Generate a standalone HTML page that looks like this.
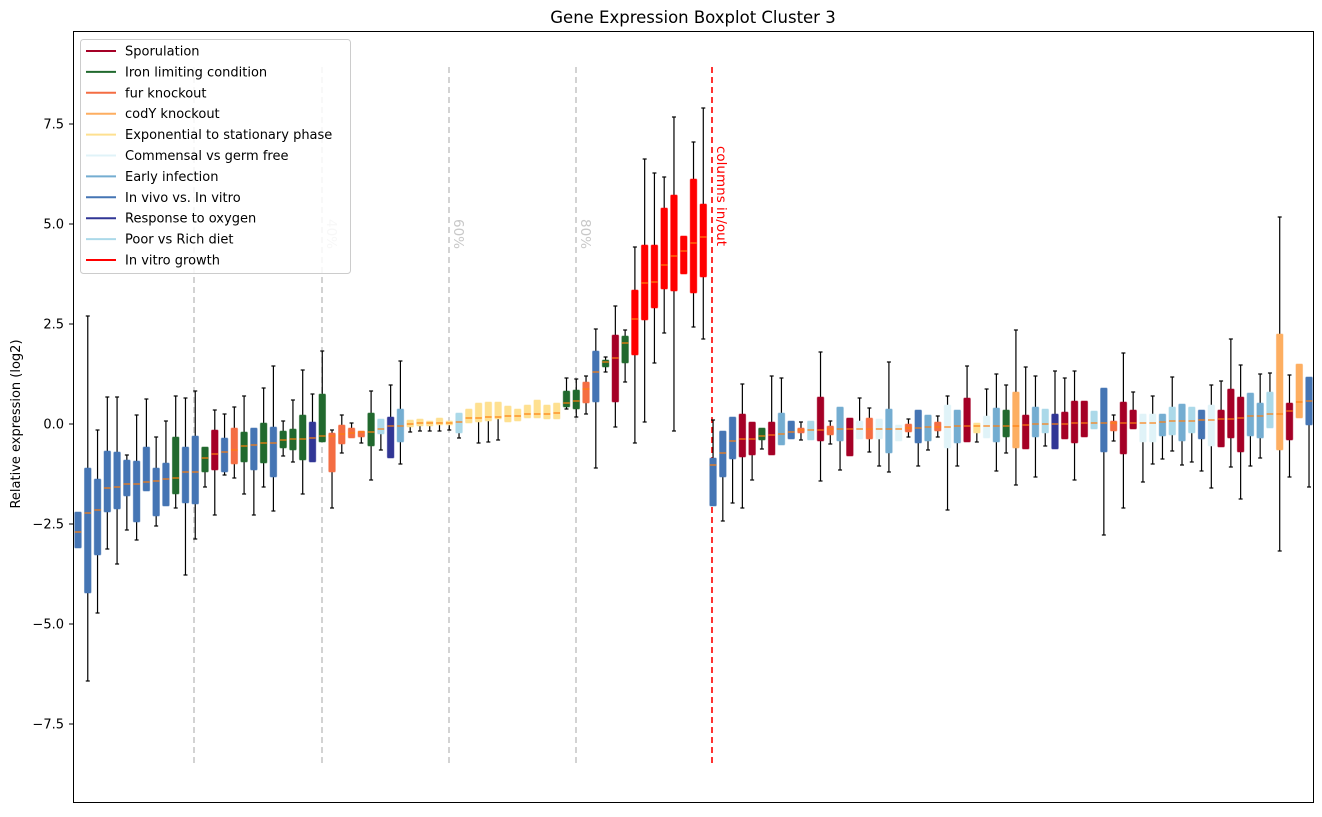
<!DOCTYPE html>
<html><head><meta charset="utf-8"><style>
html,body{margin:0;padding:0;background:#fff;}
svg text{font-family:"DejaVu Sans","Liberation Sans",sans-serif;}
</style></head><body>
<svg id="s" width="1322" height="812" xmlns="http://www.w3.org/2000/svg">
<rect width="1322" height="812" fill="#fff"/>
<text x="693" y="23" font-size="16.5" text-anchor="middle">Gene Expression Boxplot Cluster 3</text>
<text transform="translate(20,424) rotate(-90)" font-size="13" text-anchor="middle">Relative expression (log2)</text>
<g id="g"></g>
<rect x="73.5" y="31.5" width="1240" height="771" fill="none" stroke="#000" stroke-width="1"/>
</svg>
<script>
var C={b:"#4575b4",g:"#21692e",c:"#a50026",o:"#f46d43",f:"#fdae61",y:"#fee090",e:"#e0f3f8",s:"#74add1",n:"#313695",l:"#abd9e9",r:"#ff0000"};
var D=[
["b",512,512,532,548,548],["b",316,468,513,593,681],["b",430,479,510,555,613],["b",397,451,488,512,549],["b",397,452,487,509,564],
["b",455,460,484,496,530],["b",415,461,484,522,540],["b",399,447,482,491,491],["b",437,468,481,516,526],["b",421,463,479,506,506],
["g",396,437,478,494,508],["b",398,447,472,503,575],["b",391,436,472,504,539],["g",447,447,458,472,487],["c",410,430,454,470,515],
["b",414,438,452,472,475],["o",407,428,450,464,478],["g",396,432,446,462,494],["b",428,428,445,470,515],["g",388,423,443,463,487],
["b",366,427,443,477,511],["g",421,431,440,448,456],["g",400,429,439,450,462],["g",370,415,439,460,494],["n",394,422,438,462,462],
["g",351,394,436,442,442],["o",430,433,436,472,508],["o",415,425,434,444,453],["o",423,428,433,438,438],["o",431,431,432,437,443],
["g",391,413,432,446,480],["l",419,419,429,434,450],["n",385,417,426,458,458],["s",361,409,426,442,464],["y",420,420,424,427,432],
["y",419,419,423,426,431],["y",421,421,423,426,431],["y",418,418,423,425,431],["y",421,421,423,425,430],["l",413,413,422,433,438],
["y",409,409,418,423,423],["y",403,403,418,422,443],["y",402,402,417,421,442],["y",402,402,417,419,440],["y",406,406,416,422,422],
["y",409,409,416,421,421],["y",405,405,414,418,418],["y",400,400,414,418,418],["y",405,405,414,419,419],["y",403,403,413,419,419],
["g",378,391,403,407,409],["g",379,390,401,409,417],["o",376,382,389,403,414],["b",329,351,372,402,468],["g",357,360,362,367,372],
["c",306,335,358,402,427],["g",330,336,343,363,382],["r",247,290,319,355,443],["r",159,245,283,320,422],["r",173,245,282,308,363],
["r",177,208,265,289,333],["r",117,195,256,291,431],["r",236,236,251,274,274],["r",142,179,243,293,327],["r",108,204,237,277,339],
["b",420,458,465,506,506],["b",431,431,453,477,521],["b",417,417,441,459,503],["c",384,414,439,457,508],["c",422,422,439,455,480],
["g",428,428,436,440,449],["c",376,422,435,455,455],["s",378,413,434,445,445],["b",421,421,432,439,439],["o",422,428,430,433,440],
["l",421,421,430,440,440],["c",352,397,430,441,481],["o",421,426,429,435,444],["s",407,407,429,441,470],["c",418,418,429,456,456],
["e",398,421,429,439,439],["o",408,418,429,439,452],["e",419,419,429,439,466],["s",362,409,429,453,472],["e",425,425,429,441,441],
["o",419,424,428,432,437],["b",410,410,428,443,466],["s",415,415,427,441,450],["o",416,422,427,431,437],["e",396,405,427,448,510],
["s",410,410,426,443,466],["c",366,398,426,442,442],["y",423,423,426,433,442],["e",389,416,426,438,438],["s",374,408,426,442,471],
["g",385,410,426,437,453],["f",330,392,426,448,485],["c",367,415,425,449,449],["s",376,407,424,437,477],["l",409,409,424,433,446],
["n",371,414,424,449,449],["c",378,412,424,439,439],["c",371,401,423,443,480],["c",401,401,423,437,437],["l",411,411,423,429,429],
["b",388,388,423,452,535],["o",415,421,423,431,441],["c",353,402,423,454,508],["c",392,410,423,429,429],["e",414,414,423,442,482],
["e",396,414,423,442,464],["s",414,414,422,436,459],["l",377,407,421,435,451],["s",404,404,421,441,465],["l",407,407,421,433,462],
["b",410,410,420,439,471],["e",385,405,420,446,488],["c",381,410,419,447,447],["c",339,389,419,438,467],["c",365,397,418,452,499],
["s",393,393,416,436,466],["s",374,403,416,438,458],["l",373,392,414,428,428],["f",217,334,414,450,551],["c",375,403,411,440,477],
["f",364,364,402,418,418],["b",377,377,401,425,487]];
var h="";
[[7.5,124],[5,224],[2.5,324],[0,424],[-2.5,524],[-5,624],[-7.5,724]].forEach(function(t){
 h+='<line x1="69" x2="73.5" y1="'+t[1]+'" y2="'+t[1]+'" stroke="#000"/>';
 h+='<text x="64" y="'+(t[1]+4.5)+'" font-size="13" text-anchor="end">'+(t[0]==0?'0.0':(t[0]<0?'\u2212'+(-t[0]).toFixed(1):t[0].toFixed(1)))+'</text>';
});
[194,322,449,576].forEach(function(x){
 h+='<line x1="'+x+'" x2="'+x+'" y1="67" y2="767" stroke="#c8c8c8" stroke-width="1.6" stroke-dasharray="6,4"/>';
});
[["40%",322],["60%",449],["80%",576]].forEach(function(t){
 h+='<text transform="translate('+(t[1]+5)+',219) rotate(90)" font-size="13.5" fill="#c8c8c8">'+t[0]+'</text>';
});
h+='<line x1="712" x2="712" y1="67" y2="767" stroke="#ff0000" stroke-width="1.6" stroke-dasharray="6,4"/>';
h+='<text transform="translate(717,146) rotate(90)" font-size="13.5" fill="#ff0000">columns in/out</text>';
D.forEach(function(d,i){
 var x=78+i*9.77, col=C[d[0]];
 h+='<line x1="'+x+'" x2="'+x+'" y1="'+d[1]+'" y2="'+d[2]+'" stroke="#000" stroke-width="1.2"/>';
 h+='<line x1="'+x+'" x2="'+x+'" y1="'+d[4]+'" y2="'+d[5]+'" stroke="#000" stroke-width="1.2"/>';
 if(d[1]<d[2]) h+='<line x1="'+(x-2)+'" x2="'+(x+2)+'" y1="'+d[1]+'" y2="'+d[1]+'" stroke="#000" stroke-width="1.2"/>';
 if(d[5]>d[4]) h+='<line x1="'+(x-2)+'" x2="'+(x+2)+'" y1="'+d[5]+'" y2="'+d[5]+'" stroke="#000" stroke-width="1.2"/>';
 h+='<rect x="'+(x-3.3)+'" y="'+d[2]+'" width="6.6" height="'+Math.max(d[4]-d[2],2)+'" rx="1" fill="'+col+'" stroke="'+col+'" stroke-opacity="0.5" stroke-width="1"/>';
 h+='<line x1="'+(x-3.3)+'" x2="'+(x+3.3)+'" y1="'+d[3]+'" y2="'+d[3]+'" stroke="#ff7f0e" stroke-width="1.2"/>';
});
h+='<rect x="80.5" y="39.5" width="270" height="234" rx="3" fill="#fff" fill-opacity="0.85" stroke="#ccc"/>';
var L=[["Sporulation","c"],["Iron limiting condition","g"],["fur knockout","o"],["codY knockout","f"],["Exponential to stationary phase","y"],["Commensal vs germ free","e"],["Early infection","s"],["In vivo vs. In vitro","b"],["Response to oxygen","n"],["Poor vs Rich diet","l"],["In vitro growth","r"]];
L.forEach(function(l,i){var y=51+i*20.9;
 h+='<line x1="86" x2="116" y1="'+y+'" y2="'+y+'" stroke="'+C[l[1]]+'" stroke-width="2"/>';
 h+='<text x="125" y="'+(y+4.5)+'" font-size="13">'+l[0]+'</text>';});
document.getElementById("g").innerHTML=h;
</script>
</body></html>
